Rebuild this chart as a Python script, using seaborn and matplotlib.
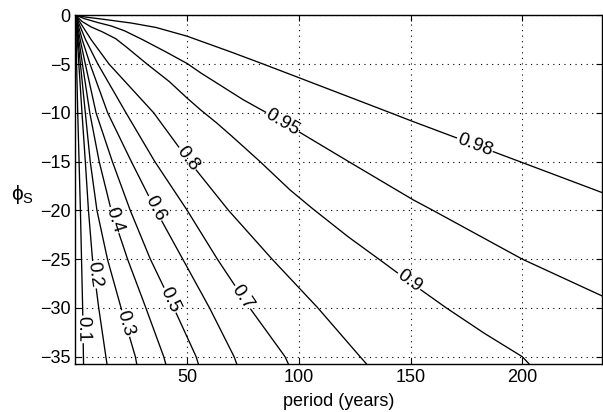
import numpy as np
import pandas as pd
import matplotlib
matplotlib.use("Agg")
import matplotlib.pyplot as plt
import seaborn as sns

# Contour levels drawn on the period / phi_S plane
levels = [0.1, 0.2, 0.3, 0.4, 0.5, 0.6, 0.7, 0.8, 0.9, 0.95, 0.98]

# Steep contours (0.1 ... 0.8): period at fixed phi_S steps
phi_steps = [0, -2.5, -5, -10, -15, -20, -25, -30, -35, -35.75]
period_c01 = [0, 0.3, 0.5, 1.0, 1.6, 2.2, 2.7, 3.2, 3.55, 3.6]
period_c02 = [0, 0.8, 1.5, 2.9, 4.4, 5.8, 7.6, 10.4, 13.6, 14.1]
period_c03 = [0, 1.1, 2.2, 4.4, 6.6, 9.6, 14.3, 20.4, 26.8, 27.4]
period_c04 = [0, 1.5, 3.1, 6.4, 10.6, 16.0, 23.3, 31.5, 39.5, 40.4]
period_c05 = [0, 2.1, 4.4, 9.2, 16.5, 24.5, 33.5, 44.0, 54.0, 55.0]
period_c06 = [0, 3.0, 6.5, 14.4, 25.0, 36.0, 48.0, 60.0, 71.0, 72.2]
period_c07 = [0, 4.5, 10.0, 22.6, 35.5, 50.0, 63.5, 78.0, 93.8, 95.3]
period_c08 = [0, 7.0, 15.0, 35.0, 51.0, 68.5, 88.0, 108.5, 127.4, 130.3]

# Shallow contours (0.9, 0.95, 0.98): phi_S along period
period_c09 = [0, 3, 7, 12, 18, 23, 32, 42, 50, 56, 63, 70, 82.6, 96, 106,
              122, 137, 150, 166, 183, 200, 203.1]
phi_c09 = [0, -0.65, -1.2, -1.7, -2.4, -3.3, -5.0, -6.8, -8.5, -9.7, -11.0,
           -12.4, -15.0, -17.9, -19.8, -22.7, -25.2, -27.4, -30.0, -32.6,
           -35.0, -35.75]
period_c095 = [0, 4, 10, 16, 22, 30, 40, 50, 56, 75, 85.6, 100, 123, 151,
               160, 200, 236]
phi_c095 = [0, -0.35, -0.75, -1.1, -1.6, -2.5, -3.7, -4.95, -5.9, -8.65,
            -10.0, -11.95, -15.1, -18.9, -20.0, -25.0, -28.8]
period_c098 = [0, 5, 13, 25, 36, 50, 70, 84, 100, 141, 150, 200, 236]
phi_c098 = [0, -0.2, -0.43, -0.8, -1.25, -2.15, -3.8, -5.0, -6.4, -10.0,
            -10.8, -15.1, -18.2]

# Where each contour carries its inline label
label_phi = [-32.2, -26.6, -31.6, -21.0, -29.2, -19.8, -28.9, -14.7]
label_period = [149.3, 92.7, 178.8]

xticks = [50, 100, 150, 200]
yticks = [-35, -30, -25, -20, -15, -10, -5, 0]

steep = [period_c01, period_c02, period_c03, period_c04,
         period_c05, period_c06, period_c07, period_c08]
shallow = [(period_c09, phi_c09), (period_c095, phi_c095),
           (period_c098, phi_c098)]

rows = []
for lev, xs in zip(levels[:8], steep):
    for x, y in zip(xs, phi_steps):
        rows.append((lev, x, y))
for lev, (xs, ys) in zip(levels[8:], shallow):
    for x, y in zip(xs, ys):
        rows.append((lev, x, y))
df = pd.DataFrame(rows, columns=["level", "period", "phi"])

sns.set_theme(style="white")
plt.rcParams["font.family"] = ["Liberation Sans", "DejaVu Sans"]
plt.rcParams["text.color"] = "black"
plt.rcParams["axes.labelcolor"] = "black"
plt.rcParams["axes.unicode_minus"] = True

fig = plt.figure(figsize=(6.03, 4.12), dpi=100)
ax = fig.add_axes([0.1252, 0.1165, 0.8728, 0.8465])

sns.lineplot(data=df, x="period", y="phi", units="level", estimator=None,
             sort=False, color="black", linewidth=0.95, ax=ax, legend=False)

ax.set_xlim(0, 235.6)
ax.set_ylim(-35.75, 0)
ax.set_xticks(xticks)
ax.set_yticks(yticks)
ax.tick_params(direction="in", length=4, width=0.8, labelsize=13,
               colors="black", top=True, right=True, bottom=True, left=True)
for s in ax.spines.values():
    s.set_visible(True)
    s.set_color("black")
    s.set_linewidth(1.0)
ax.set_axisbelow(False)
ax.grid(True, linestyle=(0, (1, 4)), color="black", linewidth=0.8)

ax.set_xlabel("period (years)", fontsize=13, labelpad=5, color="black")
ax.set_ylabel("ϕ$_\\mathregular{S}$", fontsize=15, rotation=0,
              ha="center", va="center", color="black")
ax.yaxis.set_label_coords(-0.10, 0.485)

# inline contour labels, rotated to follow the local slope on screen
fig.canvas.draw()
def put_label(text, x, y, x1, y1, x2, y2):
    p1 = ax.transData.transform((x1, y1))
    p2 = ax.transData.transform((x2, y2))
    ang = np.degrees(np.arctan2(p2[1] - p1[1], p2[0] - p1[0]))
    if ang > 90:
        ang -= 180
    if ang < -90:
        ang += 180
    ax.text(x, y, text, rotation=ang, rotation_mode="anchor",
            ha="center", va="center", fontsize=13.5, zorder=2.2,
            color="black",
            bbox=dict(facecolor="white", edgecolor="none", pad=0.6))

ph = np.array(phi_steps[::-1])
for lev, xs, yl in zip(levels[:8], steep, label_phi):
    xr = np.array(xs[::-1])
    x = np.interp(yl, ph, xr)
    xa = np.interp(yl + 1.5, ph, xr)
    xb = np.interp(yl - 1.5, ph, xr)
    put_label(f"{lev:g}", x, yl, xa, yl + 1.5, xb, yl - 1.5)

for lev, (xs, ys), xl in zip(levels[8:], shallow, label_period):
    y = np.interp(xl, xs, ys)
    ya = np.interp(xl - 6, xs, ys)
    yb = np.interp(xl + 6, xs, ys)
    put_label(f"{lev:g}", xl, y, xl - 6, ya, xl + 6, yb)

fig.savefig("out.png", dpi=100, facecolor="white")
